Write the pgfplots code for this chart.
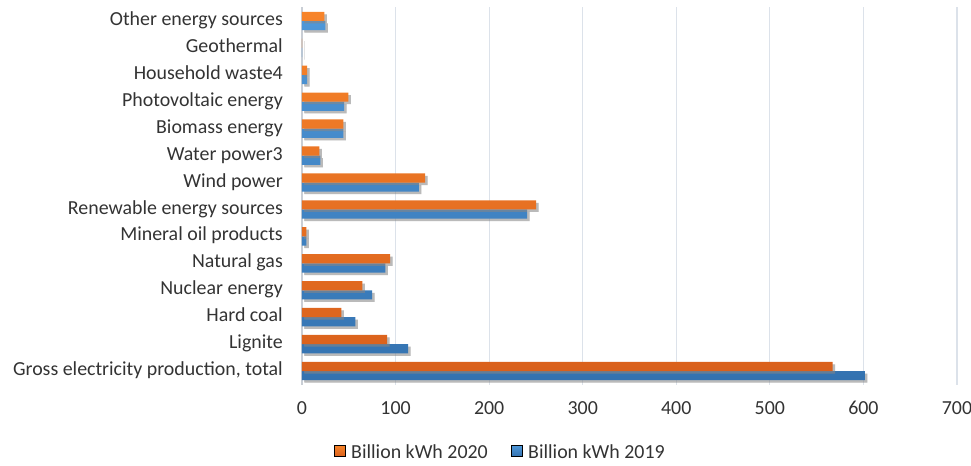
\documentclass[border=0pt]{standalone}
\usepackage{fontspec}
\setmainfont{Carlito}
\usepackage{pgfplots}
\pgfplotsset{compat=1.18}
\usetikzlibrary{shadows}
\definecolor{orgtop}{HTML}{F7842A}
\definecolor{orgbot}{HTML}{D9601C}
\definecolor{blutop}{HTML}{4E97D8}
\definecolor{blubot}{HTML}{3472B0}
\definecolor{gridc}{HTML}{DCE2EA}
\definecolor{txt}{HTML}{333333}
\tikzset{barshadow/.style={drop shadow={shadow xshift=2.5bp, shadow yshift=-2.5bp,
  top color=black!45, bottom color=black!45, opacity=0.35}}}
\begin{document}
\begin{tikzpicture}[font=\fontsize{19.9bp}{23bp}\selectfont, text=txt]
  \begin{axis}[
    name=ax,
    scale only axis,
    width=655bp, height=377bp,
    xbar,
    bar width=9.2bp,
    xmin=0, xmax=700,
    ymin=-0.5, ymax=13.5,
    xtick={0,100,...,700},
    ytick={0,...,13},
    yticklabels={{Gross electricity production, total},Lignite,Hard coal,Nuclear energy,Natural gas,Mineral oil products,Renewable energy sources,Wind power,Water power3,Biomass energy,Photovoltaic energy,Household waste4,Geothermal,Other energy sources},
    axis lines*=left,
    axis line style={-},
    x axis line style={draw=none},
    y axis line style={draw=gridc!80!gray, line width=1.2bp},
    major tick length=0pt,
    xmajorgrids,
    major grid style={gridc, line width=1.2bp},
    /pgf/number format/assume math mode=true,
    xticklabel style={anchor=base, yshift=-29.5bp},
    yticklabel style={anchor=east, inner sep=0pt, xshift=-19bp},
    typeset ticklabels with strut,
    legend columns=2,
    legend style={at={(0.302,-0.179)}, anchor=center, draw=none, fill=none,
      inner sep=0pt, column sep=5bp, nodes={inner sep=0.5bp},
      /tikz/every even column/.append style={column sep=23bp}},
  ]
    \addlegendimage{legend image code/.code={\fill[top color=orgtop, bottom color=orgbot] (0bp,-4.5bp) rectangle (11bp,6.5bp);}}
    \addlegendentry{Billion kWh 2020}
    \addlegendimage{legend image code/.code={\fill[top color=blutop, bottom color=blubot] (0bp,-4.5bp) rectangle (11bp,6.5bp);}}
    \addlegendentry{Billion kWh 2019}
    \addplot[draw=none, top color=blutop, bottom color=blubot, barshadow,
      bar shift=-4.6bp, forget plot]
      coordinates {
      (601.5,0) (113.5,1) (57,2) (75,3) (89,4) (4.6,5) (240.7,6)
      (125,7) (19.6,8) (44.1,9) (45,10) (5.5,11) (0.2,12) (24.9,13)
    };
    \addplot[draw=none, top color=orgtop, bottom color=orgbot, barshadow,
      bar shift=4.6bp, forget plot]
      coordinates {
      (567,0) (91,1) (42,2) (64.4,3) (94.3,4) (4.6,5) (250.3,6)
      (131.7,7) (18.5,8) (44.1,9) (49.5,10) (5.5,11) (0.2,12) (23.8,13)
    };
    \coordinate (ll) at (rel axis cs:0,0);
    \coordinate (ur) at (rel axis cs:1,1);
  \end{axis}
  \pgfresetboundingbox
  \path[use as bounding box] ([xshift=-302bp, yshift=-80.5bp]ll) rectangle ([xshift=14bp, yshift=7.5bp]ur);
\end{tikzpicture}
\end{document}
